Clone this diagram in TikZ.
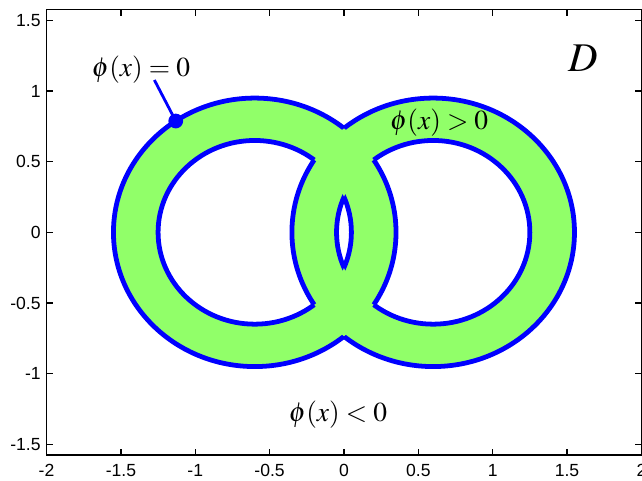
\documentclass[tikz,border=0pt]{standalone}
\usepackage{mathptmx}
\usepackage[no-math]{fontspec}
\setsansfont{Liberation Sans}
\definecolor{levelgreen}{RGB}{145,255,105}
\definecolor{levelblue}{RGB}{0,0,255}

\begin{document}
\begin{tikzpicture}[x=3.7175cm,y=3.5325cm,
  ring/.style={fill=levelgreen,even odd rule},
  front/.style={draw=levelblue,line width=3.4pt},
  axis/.style={line width=0.9pt},
  ticklbl/.style={font=\sffamily\fontsize{12.5}{14}\selectfont,inner sep=1pt},
  phase/.style={font=\fontsize{19.5}{23}\selectfont,inner sep=1pt}]
  \useasboundingbox (-2.313,-1.753) rectangle (2.004,1.644);
  % the two rings, zero level in blue
  \foreach \c in {-0.6,0.6}
    \fill[ring] (\c,0) circle (0.95) (\c,0) circle (0.65);
  \foreach \c/\o in {-0.6/0.6,0.6/-0.6} {
    \begin{scope}[even odd rule]
      \clip (-3,-3) rectangle (3,3) (\o,0) circle (0.95) (\o,0) circle (0.65);
      \draw[front] (\c,0) circle (0.95) (\c,0) circle (0.65);
    \end{scope}
  }
  % axes box
  \draw[axis] (-2,-1.575) rectangle (2,1.575);
  \foreach \x [count=\i] in {-2,-1.5,-1,-0.5,0,0.5,1,1.5,2} {
    \draw[axis] (\x,-1.575) -- ++(0,0.15cm) (\x,1.575) -- ++(0,-0.15cm);
    \node[ticklbl,below=5.5pt] (xtick\i) at (\x,-1.575) {\x};
  }
  \foreach \y [count=\i] in {-1.5,-1,-0.5,0,0.5,1,1.5} {
    \draw[axis] (-2,\y) -- ++(0.15cm,0) (2,\y) -- ++(-0.15cm,0);
    \node[ticklbl,left=3pt] (ytick\i) at (-2,\y) {\y};
  }
  % labels
  \node[phase] (zerolbl) at (-1.365,1.149) {$\phi(x)=0$};
  \node[phase] (poslbl) at (0.64,0.773) {$\phi(x)>0$};
  \node[phase] (neglbl) at (-0.04,-1.293) {$\phi(x)<0$};
  \node[font=\fontsize{29}{34}\selectfont] (dlbl) at (1.61,1.233) {$D$};
  \node[circle,fill=levelblue,inner sep=0pt,minimum size=10.5pt] (zerodot)
    at ({-0.6+0.95*cos(124)},{0.95*sin(124)}) {};
  \coordinate (zerotip) at (-1.275,1.078);
  \draw[levelblue,line width=2pt] (zerotip) -- (zerodot.center);
\end{tikzpicture}
\end{document}
